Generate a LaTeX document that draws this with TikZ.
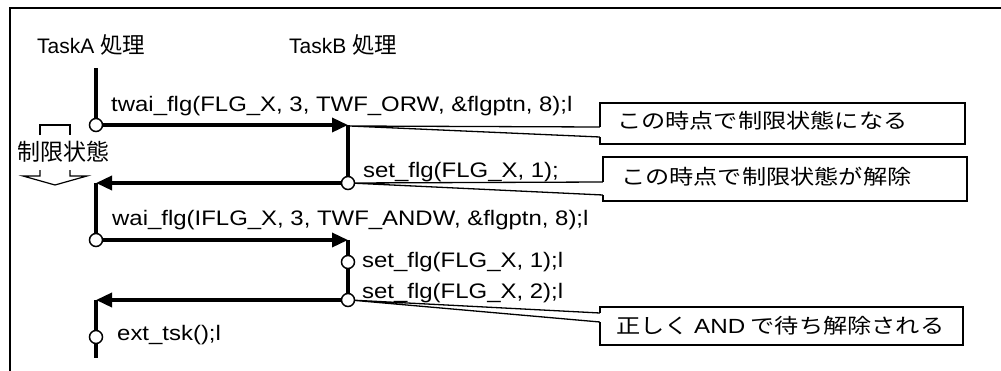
\documentclass[tikz,border=0pt]{standalone}
\usepackage{fontspec}
\setmainfont{Liberation Sans}
\newfontfamily\codefont[FakeStretch=1.14]{Liberation Sans}
\newfontfamily\jp{Noto Sans CJK JP}
\newfontfamily\jpw[FakeStretch=1.18]{Noto Sans CJK JP}
\newfontfamily\latw[FakeStretch=1.18]{Liberation Sans}
\usetikzlibrary{arrows.meta}
\tikzset{
  flow/.style={line width=3.5pt},
  flowarrow/.style={line width=3.5pt,-{Triangle[length=16pt,width=14pt]}},
  dot/.style={circle,draw,fill=white,line width=1.5pt,minimum size=13pt,inner sep=0pt},
  code/.style={anchor=base west,inner sep=0pt,font=\codefont\fontsize{21}{21}\selectfont},
  head/.style={anchor=base west,inner sep=0pt,font=\fontsize{21}{21}\selectfont},
  note/.style={anchor=west,inner sep=0pt,font=\jpw\fontsize{20.5}{20.5}\selectfont},
  boxline/.style={line width=2pt,fill=white},
  pointer/.style={line width=1.3pt},
  thin/.style={line width=1.2pt}
}
\begin{document}
\begin{tikzpicture}[x=1pt,y=-1pt]
\useasboundingbox (0,0) rectangle (1001,370);
% frame
\draw[line width=2.5pt] (10,372) -- (10,8) -- (1003,8);
% headings
\node[head] (ha) at (37,53) {TaskA {\jp\fontsize{22.5}{22.5}\selectfont 処理}};
\node[head] (hb) at (289,53) {TaskB {\jp\fontsize{22.5}{22.5}\selectfont 処理}};
% points
\coordinate (a0) at (96,68);
\coordinate (a1) at (96,125);
\coordinate (b1) at (348,125);
\coordinate (b2) at (348,183);
\coordinate (a2) at (96,183);
\coordinate (a3) at (96,240);
\coordinate (b3) at (348,240);
\coordinate (b4) at (348,262);
\coordinate (b5) at (348,300);
\coordinate (a4) at (96,300);
\coordinate (a5) at (96,337);
\coordinate (a6) at (96,358);
% callouts
\draw[pointer,fill=white] (600,127) -- (350,126) -- (600,137);
\draw[boxline] (600,127) -- (600,103) -- (965,103) -- (965,144) -- (600,144) -- (600,137);
\node[note] (n1) at (617,121) {この時点で制限状態になる};
\draw[pointer] (603,182) -- (350,183) -- (603,195);
\draw[boxline] (603,182) -- (603,157) -- (967,157) -- (967,201) -- (603,201) -- (603,195);
\node[note] (n2) at (621,177) {この時点で制限状態が解除};
\draw[pointer] (600,313) -- (350,300) -- (600,322);
\draw[boxline] (600,313) -- (600,307) -- (963,307) -- (963,345) -- (600,345) -- (600,322);
\node[note] (n3) at (616,326) {正しく {\latw AND} で待ち解除される};
% task lines
\draw[flow] (a0) -- (a1);
\draw[flowarrow] (a1) -- (b1);
\draw[flow] (b1) -- (b2);
\draw[flowarrow] (b2) -- (a2);
\draw[flow] (a2) -- (a3);
\draw[flowarrow] (a3) -- (b3);
\draw[flow] (b3) -- (b5);
\draw[flowarrow] (b5) -- (a4);
\draw[flow] (a4) -- (a6);
% dots
\node[dot] (d1) at (a1) {};
\node[dot] (d2) at (b2) {};
\node[dot] (d3) at (a3) {};
\node[dot] (d4) at (b4) {};
\node[dot] (d5) at (b5) {};
\node[dot] (d6) at (a5) {};
% code labels
\node[code] (c1) at (111,111.5) {twai\_flg(FLG\_X, 3, TWF\_ORW, \&flgptn, 8);l};
\node[code] (c2) at (363,177) {set\_flg(FLG\_X, 1);};
\node[code] (c3) at (112,225) {wai\_flg(IFLG\_X, 3, TWF\_ANDW, \&flgptn, 8);l};
\node[code] (c4) at (362,267) {set\_flg(FLG\_X, 1);l};
\node[code] (c5) at (362,298) {set\_flg(FLG\_X, 2);l};
\node[code] (c6) at (117,340) {ext\_tsk();l};
% restricted-state marker
\node[inner sep=0pt,font=\jp\fontsize{23}{23}\selectfont] (st) at (63,152) {制限状態};
\draw[thin] (40,135) -- (40,125) -- (70,125) -- (70,135);
\draw[thin] (40,170) -- (40,176) -- (23,176) -- (55,185) -- (87,176) -- (70,176) -- (70,170);
\end{tikzpicture}
\end{document}
